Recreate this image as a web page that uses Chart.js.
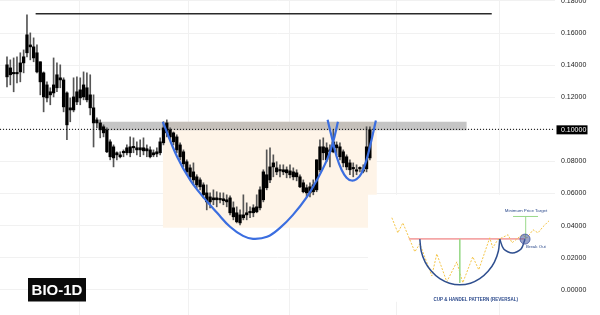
<!DOCTYPE html>
<html>
<head>
<meta charset="utf-8">
<script src="https://cdn.jsdelivr.net/npm/chart.js@4.4.1/dist/chart.umd.min.js"></script>
<style>
  html, body { margin: 0; padding: 0; background: #fff; }
  canvas { display: block; }
</style>
</head>
<body>
<canvas id="bioChart" width="600" height="315"></canvas>
<script>
// daily candles, one per index
const opens = [
  .1402, .1383, .1352, .1346, .1358, .1414, .1477, .1526, .1514, .1477,
  .1421, .1352, .1277, .1234, .1227, .1259, .1321, .1308, .1227, .1134,
  .1121, .1171, .1196, .1202, .1259, .1215, .1134, .1059, .1040, .1016,
  .0997, .0922, .0891, .0854, .0841, .0854, .0854, .0854, .0891, .0885,
  .0872, .0885, .0866, .0872, .0841, .0847, .0854, .0916, .0978, .0997,
  .0978, .0953, .0903, .0860, .0798, .0760, .0735, .0704, .0685, .0654,
  .0604, .0579, .0561, .0573, .0561, .0567, .0561, .0573, .0511, .0480,
  .0467, .0449, .0467, .0480, .0480, .0486, .0511, .0561, .0717, .0685,
  .0766, .0760, .0741, .0748, .0748, .0741, .0735, .0704, .0704, .0667,
  .0636, .0604, .0611, .0623, .0748, .0891, .0885, .0860, .0860, .0903,
  .0891, .0860, .0829, .0791, .0760, .0748, .0754, .0748, .0754, .0822
];
const highs = [
  .1452, .1433, .1445, .1452, .1477, .1495, .1713, .1601, .1570, .1526,
  .1421, .1358, .1296, .1259, .1445, .1414, .1402, .1321, .1234, .1196,
  .1321, .1327, .1321, .1358, .1352, .1340, .1215, .1072, .1059, .1028,
  .1009, .0935, .0903, .0860, .0860, .0872, .0903, .0953, .0947, .0922,
  .0935, .0947, .0903, .0891, .0872, .0885, .0947, .1047, .1059, .1009,
  .0984, .0966, .0916, .0872, .0810, .0779, .0791, .0717, .0698, .0667,
  .0654, .0604, .0623, .0611, .0604, .0604, .0592, .0586, .0548, .0517,
  .0498, .0592, .0542, .0517, .0530, .0592, .0642, .0748, .0872, .0885,
  .0841, .0798, .0779, .0779, .0766, .0779, .0760, .0748, .0717, .0685,
  .0654, .0667, .0685, .0810, .0935, .0947, .0916, .0903, .0997, .0922,
  .0916, .0872, .0841, .0810, .0791, .0779, .0766, .0779, .1016, .1016
];
const lows = [
  .1265, .1277, .1234, .1290, .1296, .1352, .1452, .1433, .1421, .1352,
  .1215, .1109, .1171, .1153, .1202, .1234, .1259, .1109, .0935, .1047,
  .1109, .1153, .1153, .1184, .1171, .1090, .0890, .1009, .0947, .0953,
  .0854, .0810, .0766, .0810, .0822, .0829, .0841, .0829, .0854, .0841,
  .0829, .0841, .0829, .0822, .0829, .0829, .0841, .0903, .0953, .0935,
  .0903, .0854, .0810, .0766, .0717, .0685, .0654, .0636, .0623, .0573,
  .0498, .0511, .0530, .0517, .0542, .0530, .0517, .0467, .0436, .0417,
  .0405, .0436, .0436, .0449, .0455, .0480, .0498, .0548, .0623, .0667,
  .0704, .0717, .0704, .0717, .0698, .0698, .0685, .0679, .0636, .0604,
  .0579, .0579, .0592, .0611, .0735, .0810, .0798, .0766, .0854, .0841,
  .0810, .0766, .0748, .0717, .0704, .0717, .0735, .0729, .0735, .0810
];
const closes = [
  .1327, .1340, .1346, .1352, .1414, .1452, .1589, .1514, .1445, .1358,
  .1296, .1202, .1196, .1215, .1277, .1340, .1308, .1140, .1028, .1121,
  .1202, .1234, .1246, .1277, .1184, .1134, .1040, .1040, .0997, .0978,
  .0860, .0829, .0822, .0841, .0829, .0860, .0885, .0891, .0885, .0872,
  .0885, .0866, .0879, .0829, .0854, .0860, .0922, .1009, .1040, .0953,
  .0922, .0872, .0829, .0785, .0735, .0704, .0685, .0654, .0642, .0592,
  .0548, .0548, .0573, .0561, .0567, .0555, .0548, .0480, .0455, .0424,
  .0417, .0467, .0480, .0486, .0511, .0517, .0623, .0735, .0636, .0766,
  .0791, .0735, .0748, .0735, .0729, .0717, .0704, .0729, .0642, .0611,
  .0604, .0642, .0654, .0810, .0891, .0854, .0810, .0872, .0922, .0885,
  .0829, .0791, .0766, .0748, .0754, .0748, .0760, .0748, .0891, .0997
];

const priceTicks = [0, 0.02, 0.04, 0.06, 0.08, 0.10, 0.12, 0.14, 0.16, 0.18];
const timeGrid = [21.9, 54.4, 85, 117.1, 148];
const lastPrice = 0.1;

// drawn annotations, in (candle index, price)
const highLine = [{ x: 8.6, y: 0.172 }, { x: 145.6, y: 0.172 }];
const cupCurve = [
  { x: 46.8, y: .1047 }, { x: 51.1, y: .0829 }, { x: 55.0, y: .0685 }, { x: 58.9, y: .0579 },
  { x: 63.1, y: .0480 }, { x: 67.0, y: .0393 }, { x: 70.9, y: .0336 }, { x: 73.9, y: .0318 },
  { x: 78.1, y: .0330 }, { x: 82.0, y: .0386 }, { x: 85.9, y: .0467 }, { x: 90.1, y: .0579 },
  { x: 93.1, y: .0685 }, { x: 96.1, y: .0810 }, { x: 97.9, y: .0916 }, { x: 99.4, y: .1047 }
];
const handleCurve = [
  { x: 96.3, y: .1059 }, { x: 97.5, y: .0955 }, { x: 99.0, y: .0831 }, { x: 100.5, y: .0748 },
  { x: 102.0, y: .0698 }, { x: 103.5, y: .0681 }, { x: 105.0, y: .0690 }, { x: 106.5, y: .0727 },
  { x: 108.0, y: .0810 }, { x: 109.5, y: .0935 }, { x: 110.8, y: .1055 }
];

// small cup & handle sketch
const sketchPath = [
  { x: 115.6, y: .0449 }, { x: 117.4, y: .0355 }, { x: 118.9, y: .0417 }, { x: 122.5, y: .0237 },
  { x: 124.0, y: .0287 }, { x: 127.6, y: .0087 }, { x: 129.1, y: .0224 }, { x: 132.1, y: .0050 },
  { x: 135.1, y: .0174 }, { x: 136.9, y: .0044 }, { x: 139.9, y: .0206 }, { x: 141.7, y: .0125 },
  { x: 145.0, y: .0324 }, { x: 145.9, y: .0262 }, { x: 147.4, y: .0312 }, { x: 150.5, y: .0343 },
  { x: 151.7, y: .0293 }, { x: 154.7, y: .0343 }, { x: 156.2, y: .0324 }, { x: 158.0, y: .0374 },
  { x: 159.5, y: .0355 }, { x: 161.0, y: .0393 }, { x: 162.8, y: .0430 }
];
const sketchCup = [
  { x: 124.0, y: .0316 }, { x: 124.4, y: .0242 }, { x: 125.6, y: .0173 }, { x: 127.5, y: .0115 },
  { x: 130.0, y: .0069 }, { x: 132.9, y: .0041 }, { x: 136.0, y: .0031 }, { x: 139.2, y: .0041 },
  { x: 142.0, y: .0069 }, { x: 144.5, y: .0115 }, { x: 146.4, y: .0173 }, { x: 147.6, y: .0242 },
  { x: 148.0, y: .0316 }
];
const sketchHandle = [
  { x: 148.0, y: .0316 }, { x: 149.2, y: .0254 }, { x: 151.8, y: .0229 }, { x: 154.4, y: .0254 },
  { x: 155.6, y: .0316 }
];
const sketchNeck = [{ x: 120.7, y: .0318 }, { x: 155.6, y: .0318 }];
const sketchDepth = [{ x: 136.0, y: .0316 }, { x: 136.0, y: .0044 }];
const sketchTarget = [{ x: 155.8, y: .0316 }, { x: 155.8, y: .0457 }];
const sketchTargetCap = [{ x: 152.0, y: .0457 }, { x: 159.5, y: .0457 }];
const breakOut = [{ x: 155.6, y: .0316 }];

const bodies = closes.map((c, i) => ({ x: i, y: [opens[i], c] }));
const wicks = closes.map((c, i) => ({ x: i, y: [lows[i], highs[i]] }));

function zone(x0, x1, top, bottom, color, order) {
    return {
        type: 'line',
        data: [{ x: x0, y: top }, { x: x1, y: top }],
        fill: { value: bottom },
        backgroundColor: color,
        borderWidth: 0,
        pointRadius: 0,
        order: order
    };
}

function path(points, color, width, order, extra) {
    return Object.assign({
        type: 'line',
        data: points,
        borderColor: color,
        borderWidth: width,
        pointRadius: 0,
        fill: false,
        order: order
    }, extra || {});
}

const navy = '#2c4a8c';

const labelPlugin = {
    id: 'labels',
    afterDraw(chart) {
        const { ctx, chartArea } = chart;
        const x = chart.scales.x, y = chart.scales.y;
        ctx.save();

        // last price tag
        const py = y.getPixelForValue(lastPrice);
        ctx.fillStyle = '#000';
        ctx.fillRect(chartArea.right + 1.5, py - 4, 31, 9);
        ctx.fillStyle = '#fff';
        ctx.font = '7px "Liberation Sans"';
        ctx.textBaseline = 'middle';
        ctx.textAlign = 'left';
        ctx.fillText(lastPrice.toFixed(5), chartArea.right + 6, py + 0.6);

        // symbol badge
        ctx.fillStyle = '#0a0a0a';
        ctx.fillRect(28, 278, 58, 23.5);
        ctx.fillStyle = '#fff';
        ctx.font = 'bold 15px "Liberation Sans"';
        ctx.textAlign = 'center';
        ctx.fillText('BIO-1D', 57, 290.5);

        // sketch captions
        ctx.fillStyle = navy;
        ctx.font = '4.4px "Liberation Sans"';
        ctx.fillText('Minimum Price Target', x.getPixelForValue(155.9), y.getPixelForValue(0.0494));
        ctx.textAlign = 'left';
        ctx.fillText('Break Out', x.getPixelForValue(155.9), y.getPixelForValue(0.0270));
        ctx.textAlign = 'center';
        ctx.font = 'bold 4.5px "Liberation Sans"';
        ctx.fillText('CUP & HANDEL PATTERN (REVERSAL)', x.getPixelForValue(140.8), y.getPixelForValue(-0.0062));
        ctx.restore();
    }
};

const ctx = document.getElementById('bioChart').getContext('2d');

const bioChart = new Chart(ctx, {
    type: 'bar',
    data: {
        datasets: [
            zone(46.8, 111.1, 0.1047, 0.0386, '#fef4e8', 20),
            zone(27.9, 138.1, 0.1047, 0.0995, 'rgba(140,140,140,0.5)', 19),
            zone(108.4, 164.6, 0.0592, -0.0075, '#ffffff', 18),
            {
                type: 'bar',
                data: wicks,
                backgroundColor: '#555',
                barThickness: 1,
                grouped: false,
                minBarLength: 1,
                order: 15
            },
            {
                type: 'bar',
                data: bodies,
                backgroundColor: '#000',
                barThickness: 2.6,
                grouped: false,
                minBarLength: 1.4,
                order: 14
            },
            path([{ x: -2.1, y: lastPrice }, { x: 164.6, y: lastPrice }], '#000', 1, 12, { borderDash: [1, 2] }),
            path(cupCurve, '#3b6ee0', 2.2, 11, { tension: 0.4 }),
            path(handleCurve, '#3b6ee0', 2.2, 11, { tension: 0.4 }),
            path(highLine, '#2a2a2a', 1.6, 10),
            path(sketchNeck, '#f4a6a6', 1.8, 9),
            path(sketchPath, '#f5c64a', 1, 8, { borderDash: [2, 1.5] }),
            path(sketchDepth, '#9bd98a', 1, 7),
            path(sketchTarget, '#9bd98a', 1, 7),
            path(sketchTargetCap, '#9bd98a', 1, 7),
            path(sketchCup, '#2f4f8f', 1.5, 6, { tension: 0.3 }),
            path(sketchHandle, '#2f4f8f', 1.5, 6, { tension: 0.3 }),
            {
                type: 'line',
                data: breakOut,
                showLine: false,
                pointRadius: 5,
                pointBackgroundColor: 'rgba(70,90,160,0.55)',
                pointBorderColor: 'rgba(70,90,160,0.8)',
                pointBorderWidth: 1,
                order: 5
            }
        ]
    },
    options: {
        responsive: false,
        animation: false,
        events: [],
        layout: { padding: 0, autoPadding: false },
        plugins: {
            legend: { display: false },
            tooltip: { enabled: false }
        },
        scales: {
            x: {
                type: 'linear',
                min: -2.1,
                max: 164.6,
                offset: false,
                grid: { color: '#f1f1f1', drawTicks: false, offset: false },
                border: { display: false },
                ticks: { display: false },
                afterBuildTicks: s => { s.ticks = timeGrid.map(v => ({ value: v })); },
                afterFit: s => { s.height = 0; s.paddingLeft = 0; s.paddingRight = 0; }
            },
            y: {
                position: 'right',
                min: -0.0157,
                max: 0.1806,
                grid: { color: '#f1f1f1', drawTicks: false },
                border: { display: false },
                ticks: {
                    padding: 6,
                    color: '#222',
                    font: { family: 'Liberation Sans', size: 7 },
                    callback: v => v.toFixed(5)
                },
                afterBuildTicks: s => { s.ticks = priceTicks.map(v => ({ value: v })); },
                afterFit: s => { s.width = 45; s.paddingTop = 0; s.paddingBottom = 0; }
            }
        }
    },
    plugins: [labelPlugin]
});
</script>
</body>
</html>
